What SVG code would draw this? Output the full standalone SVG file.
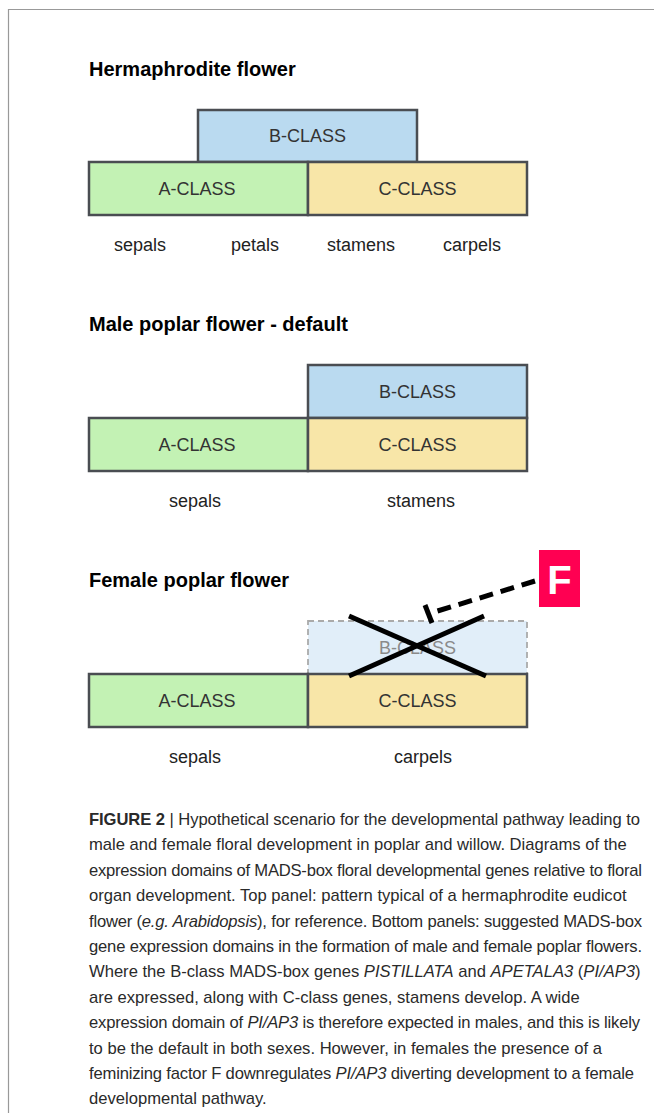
<svg xmlns="http://www.w3.org/2000/svg" width="654" height="1113" viewBox="0 0 654 1113">
<style>
.title{font-family:"Liberation Sans",Arial,sans-serif;font-weight:bold;font-size:20px;fill:#000}
.box{stroke:#4a4d52;stroke-width:2.5}
.a{fill:#c3f2b4}.b{fill:#badaf0}.c{fill:#f8e6a8}
.bl{font-family:"Liberation Sans",Arial,sans-serif;font-size:18px;fill:#333;text-anchor:middle}
.org{font-family:"Liberation Sans",Arial,sans-serif;font-size:18px;fill:#222;text-anchor:middle}
.cap{font-family:"Liberation Sans",Arial,sans-serif;font-size:16.6px;fill:#2a2a2a}
.it{font-style:italic}
</style>
<rect width="654" height="1113" fill="#fff"/>
<path d="M8.5 1113 V9.5 H654" fill="none" stroke="#999" stroke-width="1.2"/>

<text class="title" x="89" y="76">Hermaphrodite flower</text>
<g id="h-b"><rect class="box b" x="198" y="110" width="219" height="52"/><text class="bl" x="307.5" y="142">B-CLASS</text></g>
<g id="h-a"><rect class="box a" x="89" y="162" width="219" height="53"/><text class="bl" x="197" y="195">A-CLASS</text></g>
<g id="h-c"><rect class="box c" x="308" y="162" width="219" height="53"/><text class="bl" x="417.5" y="195">C-CLASS</text></g>
<text class="org" x="140" y="251">sepals</text>
<text class="org" x="255" y="251">petals</text>
<text class="org" x="361" y="251">stamens</text>
<text class="org" x="472" y="251">carpels</text>

<text class="title" x="89" y="331">Male poplar flower - default</text>
<g id="m-b"><rect class="box b" x="308" y="365" width="219" height="53"/><text class="bl" x="417.5" y="398">B-CLASS</text></g>
<g id="m-a"><rect class="box a" x="89" y="418" width="219" height="53"/><text class="bl" x="197" y="451">A-CLASS</text></g>
<g id="m-c"><rect class="box c" x="308" y="418" width="219" height="53"/><text class="bl" x="417.5" y="451">C-CLASS</text></g>
<text class="org" x="195" y="507">sepals</text>
<text class="org" x="421" y="507">stamens</text>

<text class="title" x="89" y="587">Female poplar flower</text>
<g id="f-b"><rect x="308" y="621" width="219" height="53" fill="#e1eef9" stroke="#aaa" stroke-width="1.8" stroke-dasharray="6 4"/><text class="bl" x="417.5" y="654" style="fill:#8a8a8a">B-CLASS</text></g>
<g id="f-a"><rect class="box a" x="89" y="674" width="219" height="53"/><text class="bl" x="197" y="707">A-CLASS</text></g>
<g id="f-c"><rect class="box c" x="308" y="674" width="219" height="53"/><text class="bl" x="417.5" y="707">C-CLASS</text></g>
<text class="org" x="195" y="763">sepals</text>
<text class="org" x="423" y="763">carpels</text>

<g id="F"><rect x="539" y="550" width="41" height="57" fill="#ff0052"/><text x="559.5" y="594" font-family="Liberation Sans,Arial,sans-serif" font-weight="bold" font-size="40" fill="#fff" text-anchor="middle">F</text></g>

<g id="connectors">
<line x1="349" y1="616" x2="486" y2="676" stroke="#000" stroke-width="5"/>
<line x1="349" y1="676" x2="484" y2="616" stroke="#000" stroke-width="5"/>
<line x1="535" y1="581" x2="431" y2="613" stroke="#000" stroke-width="5" stroke-dasharray="14 8"/>
<line x1="425" y1="605" x2="432" y2="623" stroke="#000" stroke-width="5"/>
</g>

<g id="caption">
<text class="cap" x="89" y="825" textLength="551" lengthAdjust="spacing"><tspan font-weight="bold">FIGURE 2</tspan> | Hypothetical scenario for the developmental pathway leading to</text>
<text class="cap" x="89" y="850.4">male and female floral development in poplar and willow. Diagrams of the</text>
<text class="cap" x="89" y="875.8" textLength="553" lengthAdjust="spacing">expression domains of MADS-box floral developmental genes relative to floral</text>
<text class="cap" x="89" y="901.2">organ development. Top panel: pattern typical of a hermaphrodite eudicot</text>
<text class="cap" x="89" y="926.6" textLength="553" lengthAdjust="spacing">flower (<tspan class="it">e.g. Arabidopsis</tspan>), for reference. Bottom panels: suggested MADS-box</text>
<text class="cap" x="89" y="952" textLength="553" lengthAdjust="spacing">gene expression domains in the formation of male and female poplar flowers.</text>
<text class="cap" x="89" y="977.4">Where the B-class MADS-box genes <tspan class="it">PISTILLATA</tspan> and <tspan class="it">APETALA3</tspan> (<tspan class="it">PI/AP3</tspan>)</text>
<text class="cap" x="89" y="1002.8">are expressed, along with C-class genes, stamens develop. A wide</text>
<text class="cap" x="89" y="1028.2" textLength="551" lengthAdjust="spacing">expression domain of <tspan class="it">PI/AP3</tspan> is therefore expected in males, and this is likely</text>
<text class="cap" x="89" y="1053.6">to be the default in both sexes. However, in females the presence of a</text>
<text class="cap" x="89" y="1079" textLength="545" lengthAdjust="spacing">feminizing factor F downregulates <tspan class="it">PI/AP3</tspan> diverting development to a female</text>
<text class="cap" x="89" y="1104.4">developmental pathway.</text>
</g>
</svg>
